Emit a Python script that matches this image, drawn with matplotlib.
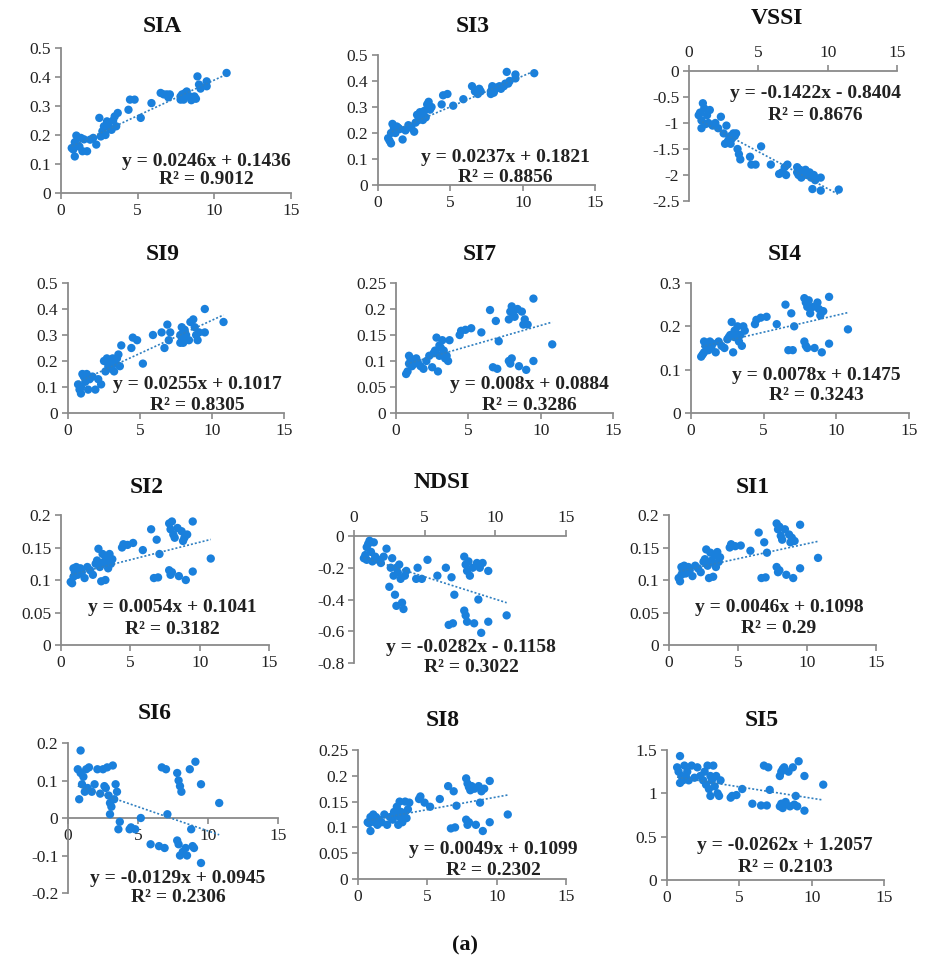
import numpy as np
import matplotlib
matplotlib.use("Agg")
import matplotlib.pyplot as plt
from matplotlib.ticker import MultipleLocator, FuncFormatter

plt.rcParams['font.family'] = ['Liberation Serif', 'DejaVu Serif']
plt.rcParams['axes.unicode_minus'] = False

# shared x values (samples)
x = [0.7, 0.8, 0.9, 0.9, 1.0, 1.1, 1.2, 1.3, 1.4, 1.5,
     1.7, 1.9, 2.1, 2.3, 2.5, 2.6, 2.7, 2.8, 2.9, 3.0,
     3.0, 3.1, 3.2, 3.3, 3.4, 3.5, 3.6, 3.7, 4.4, 4.5,
     4.8, 5.2, 5.9, 6.5, 6.7, 6.9, 7.0, 7.1, 7.8, 7.8,
     7.9, 7.9, 8.0, 8.0, 8.1, 8.2, 8.4, 8.5, 8.7, 8.8,
     8.9, 9.0, 9.1, 9.5, 9.5, 10.8]

y_sia = [0.155, 0.15, 0.126, 0.175, 0.198, 0.19, 0.16, 0.19, 0.144, 0.185,
         0.144, 0.184, 0.19, 0.167, 0.259, 0.195, 0.213, 0.23, 0.2, 0.247,
         0.24, 0.23, 0.22, 0.218, 0.25, 0.264, 0.23, 0.276, 0.287, 0.322,
         0.322, 0.259, 0.31, 0.345, 0.34, 0.34, 0.33, 0.34, 0.333, 0.322,
         0.33, 0.34, 0.322, 0.335, 0.345, 0.35, 0.333, 0.32, 0.333, 0.325,
         0.402, 0.374, 0.36, 0.385, 0.368, 0.414]
y_si3 = [0.18, 0.17, 0.16, 0.2, 0.235, 0.22, 0.2, 0.225, 0.22, 0.215,
         0.175, 0.21, 0.23, 0.22, 0.205, 0.24, 0.27, 0.25, 0.28, 0.26,
         0.27, 0.25, 0.285, 0.26, 0.31, 0.32, 0.29, 0.3, 0.31, 0.345,
         0.35, 0.305, 0.33, 0.38, 0.36, 0.35, 0.37, 0.36, 0.35, 0.36,
         0.37, 0.38, 0.36, 0.355, 0.37, 0.375, 0.38, 0.37, 0.38, 0.39,
         0.435, 0.39, 0.40, 0.425, 0.41, 0.43]
y_vssi = [-0.85, -0.8, -1.1, -0.95, -0.62, -0.72, -1.02, -0.85, -1.0, -0.75,
          -1.05, -1.0, -1.1, -0.88, -1.2, -1.4, -1.05, -1.35, -1.3, -1.25,
          -1.4, -1.3, -1.2, -1.25, -1.2, -1.5, -1.6, -1.7, -1.65, -1.8,
          -1.8, -1.45, -1.8, -1.98, -1.95, -1.85, -2.0, -1.8, -1.85, -1.95,
          -1.9, -2.0, -1.95, -1.9, -2.05, -1.95, -1.9, -2.0, -1.95, -2.05,
          -2.27, -2.0, -2.1, -2.3, -2.05, -2.28]
y_si9 = [0.11, 0.09, 0.075, 0.1, 0.15, 0.14, 0.12, 0.15, 0.09, 0.13,
         0.14, 0.09, 0.13, 0.11, 0.2, 0.16, 0.21, 0.18, 0.19, 0.2,
         0.17, 0.21, 0.16, 0.19, 0.21, 0.225, 0.18, 0.26, 0.25, 0.29,
         0.28, 0.19, 0.3, 0.31, 0.25, 0.34, 0.28, 0.31, 0.3, 0.27,
         0.33, 0.29, 0.31, 0.27, 0.32, 0.3, 0.28, 0.35, 0.36, 0.33,
         0.30, 0.28, 0.31, 0.40, 0.31, 0.35]
y_si7 = [0.075, 0.08, 0.11, 0.095, 0.105, 0.09, 0.1, 0.095, 0.105, 0.098,
         0.09, 0.085, 0.1, 0.11, 0.088, 0.115, 0.12, 0.145, 0.08, 0.13,
         0.11, 0.125, 0.14, 0.12, 0.105, 0.11, 0.1, 0.14, 0.15, 0.158,
         0.16, 0.163, 0.155, 0.198, 0.088, 0.177, 0.085, 0.138, 0.18, 0.1,
         0.195, 0.095, 0.205, 0.105, 0.19, 0.185, 0.2, 0.09, 0.195, 0.17,
         0.18, 0.083, 0.17, 0.22, 0.1, 0.132]
y_si4 = [0.13, 0.135, 0.14, 0.165, 0.155, 0.16, 0.145, 0.165, 0.15, 0.16,
         0.14, 0.165, 0.155, 0.15, 0.17, 0.175, 0.18, 0.21, 0.14, 0.19,
         0.175, 0.185, 0.2, 0.165, 0.18, 0.155, 0.2, 0.19, 0.205, 0.215,
         0.22, 0.222, 0.205, 0.25, 0.145, 0.23, 0.145, 0.2, 0.265, 0.165,
         0.255, 0.155, 0.245, 0.15, 0.26, 0.23, 0.245, 0.15, 0.255, 0.24,
         0.225, 0.14, 0.235, 0.268, 0.16, 0.193]
y_si2 = [0.097, 0.095, 0.118, 0.105, 0.112, 0.12, 0.108, 0.115, 0.118, 0.112,
         0.103, 0.12, 0.115, 0.108, 0.125, 0.13, 0.148, 0.12, 0.098, 0.14,
         0.125, 0.128, 0.10, 0.135, 0.118, 0.14, 0.125, 0.132, 0.15, 0.155,
         0.154, 0.157, 0.146, 0.178, 0.103, 0.162, 0.104, 0.14, 0.187, 0.115,
         0.178, 0.108, 0.19, 0.112, 0.17, 0.165, 0.18, 0.106, 0.175, 0.16,
         0.165, 0.10, 0.17, 0.19, 0.113, 0.133]
y_ndsi = [-0.14, -0.12, -0.07, -0.15, -0.05, -0.03, -0.1, -0.16, -0.04, -0.13,
          -0.15, -0.17, -0.13, -0.08, -0.32, -0.2, -0.14, -0.25, -0.37, -0.2,
          -0.44, -0.23, -0.18, -0.27, -0.42, -0.46, -0.25, -0.22, -0.27, -0.2,
          -0.27, -0.15, -0.25, -0.2, -0.56, -0.26, -0.55, -0.37, -0.13, -0.47,
          -0.18, -0.5, -0.22, -0.54, -0.16, -0.25, -0.2, -0.55, -0.17, -0.4,
          -0.2, -0.61, -0.17, -0.22, -0.54, -0.5]
y_si1 = [0.103, 0.098, 0.12, 0.108, 0.115, 0.122, 0.11, 0.118, 0.12, 0.115,
         0.106, 0.122, 0.118, 0.112, 0.128, 0.132, 0.147, 0.122, 0.103, 0.142,
         0.127, 0.13, 0.105, 0.138, 0.12, 0.143, 0.128, 0.135, 0.15, 0.155,
         0.152, 0.153, 0.145, 0.173, 0.103, 0.158, 0.104, 0.142, 0.187, 0.12,
         0.178, 0.112, 0.182, 0.115, 0.168, 0.162, 0.178, 0.108, 0.17, 0.158,
         0.165, 0.103, 0.16, 0.185, 0.118, 0.134]
y_si6 = [0.13, 0.05, 0.12, 0.18, 0.09, 0.11, 0.07, 0.13, 0.08, 0.135,
         0.07, 0.09, 0.13, 0.065, 0.13, 0.085, 0.08, 0.135, 0.06, 0.01,
         0.04, 0.03, 0.14, 0.05, 0.09, 0.07, -0.03, -0.01, -0.03, -0.025,
         -0.03, 0.0, -0.07, -0.075, 0.135, -0.08, 0.13, 0.01, 0.12, -0.06,
         0.1, -0.07, 0.085, -0.1, 0.07, -0.09, -0.08, -0.1, 0.13, -0.03,
         -0.075, -0.08, 0.15, 0.09, -0.12, 0.04]
y_si8 = [0.11, 0.108, 0.093, 0.12, 0.115, 0.125, 0.11, 0.12, 0.105, 0.115,
         0.11, 0.125, 0.105, 0.12, 0.115, 0.13, 0.125, 0.14, 0.105, 0.15,
         0.12, 0.13, 0.11, 0.125, 0.15, 0.118, 0.135, 0.148, 0.155, 0.16,
         0.148, 0.14, 0.155, 0.18, 0.098, 0.17, 0.1, 0.142, 0.195, 0.115,
         0.185, 0.105, 0.178, 0.11, 0.172, 0.18, 0.175, 0.105, 0.18, 0.148,
         0.17, 0.093, 0.175, 0.19, 0.11, 0.125]
y_si5 = [1.3, 1.25, 1.12, 1.43, 1.2, 1.15, 1.32, 1.2, 1.25, 1.15,
         1.32, 1.18, 1.3, 1.2, 1.15, 1.25, 1.1, 1.32, 1.05, 0.97,
         1.2, 1.15, 1.32, 1.08, 1.2, 1.0, 0.97, 1.15, 0.95, 0.97,
         0.98, 1.05, 0.88, 0.86, 1.32, 0.86, 1.3, 1.04, 1.2, 0.85,
         1.25, 0.88, 1.28, 0.83, 1.3, 0.9, 1.25, 0.85, 1.3, 0.87,
         0.97, 0.85, 1.37, 1.2, 0.8, 1.1]

titles = ["SIA", "SI3", "VSSI", "SI9", "SI7", "SI4", "SI2", "NDSI", "SI1", "SI6", "SI8", "SI5"]
series = [y_sia, y_si3, y_vssi, y_si9, y_si7, y_si4, y_si2, y_ndsi, y_si1, y_si6, y_si8, y_si5]
slopes = [0.0246, 0.0237, -0.1422, 0.0255, 0.008, 0.0078, 0.0054, -0.0282, 0.0046, -0.0129, 0.0049, -0.0262]
intercepts = [0.1436, 0.1821, -0.8404, 0.1017, 0.0884, 0.1475, 0.1041, -0.1158, 0.1098, 0.0945, 0.1099, 1.2057]
equations = ["y = 0.0246x + 0.1436", "y = 0.0237x + 0.1821", "y = -0.1422x - 0.8404",
             "y = 0.0255x + 0.1017", "y = 0.008x + 0.0884", "y = 0.0078x + 0.1475",
             "y = 0.0054x + 0.1041", "y = -0.0282x - 0.1158", "y = 0.0046x + 0.1098",
             "y = -0.0129x + 0.0945", "y = 0.0049x + 0.1099", "y = -0.0262x + 1.2057"]
r2_labels = ["R² = 0.9012", "R² = 0.8856", "R² = 0.8676", "R² = 0.8305", "R² = 0.3286",
             "R² = 0.3243", "R² = 0.3182", "R² = 0.3022", "R² = 0.29", "R² = 0.2306",
             "R² = 0.2302", "R² = 0.2103"]
ylims = [(0, 0.5), (0, 0.5), (-2.5, 0), (0, 0.5), (0, 0.25), (0, 0.3),
         (0, 0.2), (-0.8, 0), (0, 0.2), (-0.2, 0.2), (0, 0.25), (0, 1.5)]
ysteps = [0.1, 0.1, 0.5, 0.1, 0.05, 0.1, 0.05, 0.2, 0.05, 0.1, 0.05, 0.5]

W, H = 926, 963
# axes boxes in pixels: x0, x1, ytop, ybottom
boxes = [(61, 291, 48, 193), (378, 595, 55, 185), (689, 897, 71, 201),
         (68, 284, 283, 413), (396, 613, 283, 413), (691, 909, 283, 413),
         (61, 269, 515, 645), (354, 566, 536, 663), (669, 876, 515, 645),
         (68, 278, 743, 893), (358, 566, 750, 879), (667, 884, 750, 880)]
title_pos = [(162, 27), (473, 27), (777, 18), (163, 255), (480, 255), (785, 255),
             (147, 487), (442, 482), (753, 487), (155, 713), (443, 720), (762, 720)]
eq_pos = [(206, 162, 180), (505, 157, 177), (815, 94, 116), (197, 384, 405),
          (529, 384, 405), (816, 375, 395), (172, 608, 630), (471, 647, 668),
          (779, 607, 628), (178, 878, 898), (493, 850, 870), (785, 845, 867)]
top_axis = {2, 7}
zero_axis = {9}

fig = plt.figure(figsize=(W / 100, H / 100), dpi=100)
fig.patch.set_facecolor('white')

dot_color = '#1a80dc'
line_color = '#2f7fc0'
spine_color = '#8a8a8a'
fmt = FuncFormatter(lambda v, p: '%g' % round(v, 4))

xa = np.array(x)
for i in range(12):
    x0, x1, yt, yb = boxes[i]
    ax = fig.add_axes([x0 / W, (H - yb) / H, (x1 - x0) / W, (yb - yt) / H])
    ax.set_facecolor('none')
    ya = np.array(series[i])
    ax.scatter(xa, ya, s=36, color=dot_color, edgecolors='none', zorder=3, clip_on=False)
    xl = np.array([xa.min(), xa.max()])
    ax.plot(xl, slopes[i] * xl + intercepts[i], ls=(0, (1.2, 1.2)), lw=1.2,
            color=line_color, zorder=4)
    ax.set_xlim(0, 15)
    ax.set_ylim(*ylims[i])
    ax.xaxis.set_major_locator(MultipleLocator(5))
    ax.yaxis.set_major_locator(MultipleLocator(ysteps[i]))
    ax.xaxis.set_major_formatter(fmt)
    ax.yaxis.set_major_formatter(fmt)
    for s in ax.spines.values():
        s.set_color(spine_color)
        s.set_linewidth(1.3)
    ax.spines['right'].set_visible(False)
    if i in top_axis:
        ax.spines['bottom'].set_visible(False)
        ax.xaxis.tick_top()
    else:
        ax.spines['top'].set_visible(False)
    if i in zero_axis:
        ax.spines['bottom'].set_position(('data', 0))
    ax.tick_params(direction='out', length=4, width=1.2, color=spine_color,
                   labelsize=12.5, labelcolor='#222222', pad=3)
    # titles and equations
    tx, ty = title_pos[i]
    fig.text(tx / W, 1 - ty / H, titles[i], ha='center', va='center',
             fontsize=17, fontweight='bold', color='#111111')
    ex, ey1, ey2 = eq_pos[i]
    fig.text(ex / W, 1 - ey1 / H, equations[i], ha='center', va='center',
             fontsize=14, fontweight='bold', color='#222222', zorder=10)
    fig.text(ex / W, 1 - ey2 / H, r2_labels[i], ha='center', va='center',
             fontsize=14, fontweight='bold', color='#222222', zorder=10)

fig.text(465 / W, 1 - 945 / H, "(a)", ha='center', va='center', fontsize=16,
         fontweight='bold', color='#111111')

fig.savefig('out.png', dpi=100, facecolor='white')
